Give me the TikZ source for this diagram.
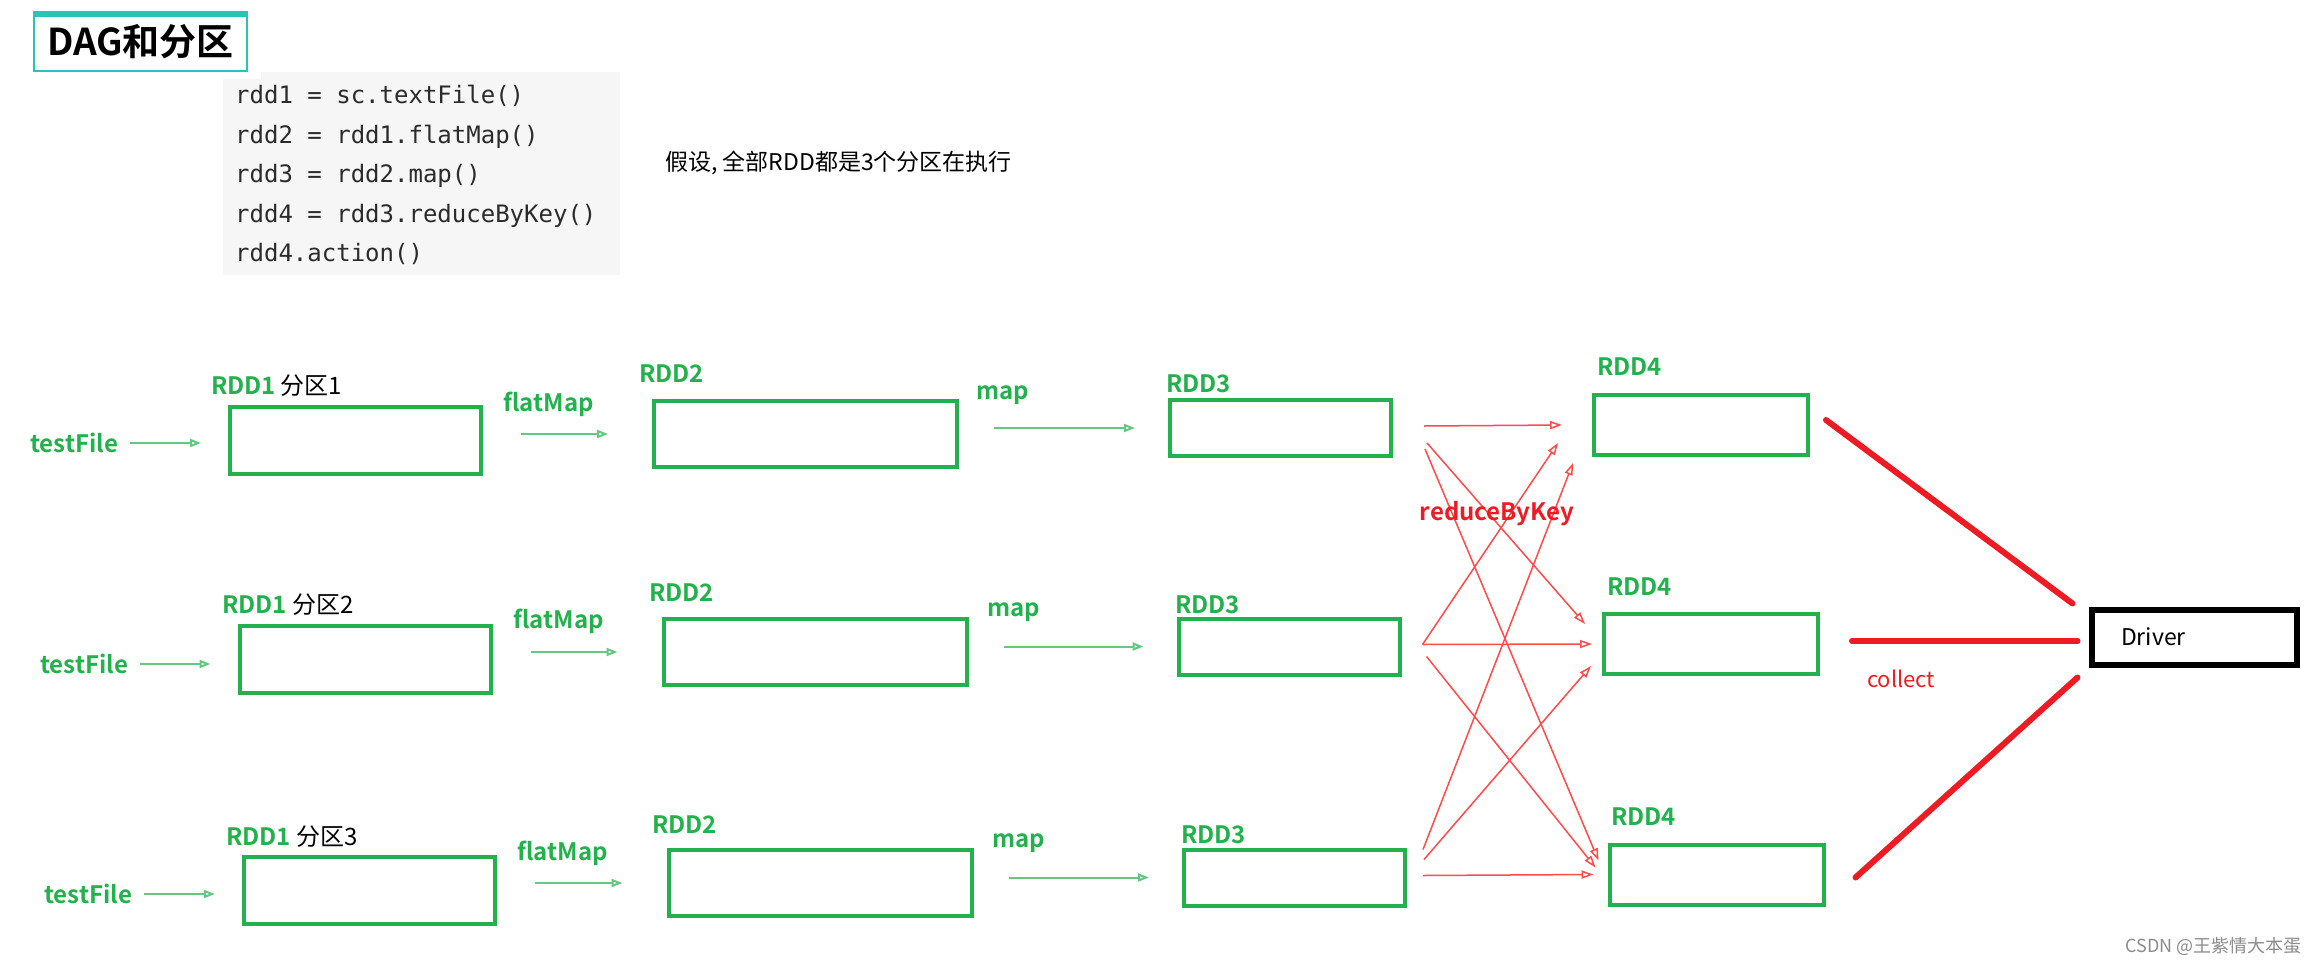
\documentclass[tikz,border=0pt]{standalone}
\usepackage{fontspec}
\setmainfont{Noto Sans CJK SC}[BoldFont={Noto Sans CJK SC Bold}]
\setmonofont{DejaVu Sans Mono}
\usepackage{xcolor}
\usetikzlibrary{arrows.meta, positioning, calc}

\definecolor{rddgreen}{HTML}{22B14C}
\definecolor{rddred}{HTML}{ED1C24}
\definecolor{arrred}{HTML}{FF4B4B}
\definecolor{titleteal}{HTML}{2CC3B5}
\definecolor{codebg}{HTML}{F6F6F6}
\definecolor{codetxt}{HTML}{2B2B2B}

\begin{document}
\begin{tikzpicture}[
  x=1pt, y=-1pt,
  box/.style={rectangle, draw=rddgreen, line width=4pt, inner sep=0pt},
  boxa/.style={box, minimum width=251pt, minimum height=67pt},
  boxb/.style={box, minimum width=303pt, minimum height=66pt},
  boxc/.style={box, minimum width=221pt, minimum height=56pt},
  boxd/.style={box, minimum width=214pt, minimum height=60pt},
  lbl/.style={anchor=west, inner sep=0pt, text=rddgreen,
              font=\fontsize{24}{28}\selectfont\bfseries},
  garr/.style={-{Triangle[open, length=11pt, width=8pt]}, draw=rddgreen!70, line width=2pt},
  tfarr/.style={garr, shorten <=12pt, shorten >=27pt},
  fmarr/.style={garr, shorten <=38pt, shorten >=44pt},
  mparr/.style={garr, shorten <=35pt, shorten >=33pt},
  rarr/.style={-{Triangle[open, length=12pt, width=8pt]}, draw=arrred, line width=1.5pt},
  col/.style={draw=rddred, line width=6pt, line cap=round}
]
\useasboundingbox[fill=white] (0,0) rectangle (2318,966);

% --- title and code ---
\node[draw=titleteal, line width=2pt, minimum width=213pt, minimum height=59pt,
      inner sep=0pt, font=\fontsize{37}{42}\selectfont\bfseries] (title) at (140.5,41.5) {DAG和分区};
\fill[titleteal] (title.north west) rectangle ($(title.north east)+(0,6)$);

\fill[codebg] (261,72) rectangle (620,80);
\node[fill=codebg, anchor=north west, minimum width=397pt, minimum height=196pt,
      inner sep=0pt] (codebg) at (223,79) {};
\node[anchor=west, inner sep=0pt, align=left, text=codetxt,
      font=\ttfamily\fontsize{24}{39.5}\selectfont] (code) at (235,175)
  {rdd1 = sc.textFile()\\rdd2 = rdd1.flatMap()\\rdd3 = rdd2.map()\\rdd4 = rdd3.reduceByKey()\\rdd4.action()};

\node[anchor=west, inner sep=0pt, font=\fontsize{23}{27}\selectfont] (note) at (665,163)
  {假设, 全部RDD都是3个分区在执行};

% --- row 1 ---
\node[boxa] (r11) at (355.5,440.5) {};
\node[boxb] (r21) at (805.5,434) {};
\node[boxc] (r31) at (1280.5,428) {};
\node[boxd] (r41) at (1701,425) {};
\node[lbl] (p11) at (211,386) {RDD1\,\textcolor{black}{\mdseries 分区1}};
\node[lbl] (p21) at (639,374) {RDD2};
\node[lbl] (p31) at (1166,384) {RDD3};
\node[lbl] (p41) at (1597,367) {RDD4};
\node[lbl] (tf1) at (30,443) {testFile};
\node[lbl] (fm1) at (503,404) {flatMap};
\node[lbl] (mp1) at (976,395) {map};
\draw[tfarr] (tf1.east) -- (tf1.east -| r11.west);
\draw[fmarr] (r11.east |- r21.west) -- (r21.west);
\draw[mparr] (r21.east |- r31.west) -- (r31.west);

% --- row 2 ---
\node[boxa] (r12) at (365,659.5) {};
\node[boxb] (r22) at (815,652) {};
\node[boxc] (r32) at (1289,646.5) {};
\node[boxd] (r42) at (1711,644) {};
\node[lbl] (p12) at (222,605) {RDD1 \textcolor{black}{\mdseries 分区2}};
\node[lbl] (p22) at (649,593) {RDD2};
\node[lbl] (p32) at (1175,605) {RDD3};
\node[lbl] (p42) at (1607,587) {RDD4};
\node[lbl] (tf2) at (40,664) {testFile};
\node[lbl] (fm2) at (513,621) {flatMap};
\node[lbl] (mp2) at (987,612) {map};
\draw[tfarr] (tf2.east) -- (tf2.east -| r12.west);
\draw[fmarr] (r12.east |- r22.west) -- (r22.west);
\draw[mparr] (r22.east |- r32.west) -- (r32.west);

% --- row 3 ---
\node[boxa] (r13) at (369.5,890.5) {};
\node[boxb] (r23) at (820,883) {};
\node[boxc] (r33) at (1294.5,877.5) {};
\node[boxd] (r43) at (1716.5,874.5) {};
\node[lbl] (p13) at (226,837) {RDD1 \textcolor{black}{\mdseries 分区3}};
\node[lbl] (p23) at (652,825) {RDD2};
\node[lbl] (p33) at (1181,835) {RDD3};
\node[lbl] (p43) at (1611,817) {RDD4};
\node[lbl] (tf3) at (44,894) {testFile};
\node[lbl] (fm3) at (517,853) {flatMap};
\node[lbl] (mp3) at (992,843) {map};
\draw[tfarr] (tf3.east) -- (tf3.east -| r13.west);
\draw[fmarr] (r13.east |- r23.west) -- (r23.west);
\draw[mparr] (r23.east |- r33.west) -- (r33.west);

% --- reduceByKey shuffle ---
\draw[rarr] ($(r31.east)+(31,-2)$) -- ($(r41.west)+(-30,0)$);
\draw[rarr] ($(r31.east)+(34,15)$) -- ($(r42.west)+(-17,-20)$);
\draw[rarr] ($(r31.east)+(32,21)$) -- ($(r43.west)+(-9,-14)$);
\draw[rarr] ($(r32.east)+(21,-2)$) -- ($(r41.west)+(-34,18)$);
\draw[rarr] ($(r32.east)+(21,-2)$) -- ($(r42.west)+(-10,0)$);
\draw[rarr] ($(r32.east)+(25,10)$) -- ($(r43.west)+(-12,-7)$);
\draw[rarr] ($(r33.east)+(16,-28)$) -- ($(r41.west)+(-19,38)$);
\draw[rarr] ($(r33.east)+(17,-18)$) -- ($(r42.west)+(-11,22)$);
\draw[rarr] ($(r33.east)+(16,-2)$) -- ($(r43.west)+(-14,0)$);
\node[inner sep=0pt, text=rddred, font=\fontsize{24}{28}\selectfont\bfseries] (rbk) at (1497,514) {reduceByKey};

% --- collect to driver ---
\node[draw=black, line width=6pt, minimum width=205pt, minimum height=55pt, inner sep=0pt,
      text width=146pt, align=left, font=\fontsize{23}{27}\selectfont] (drv) at (2194,637) {Driver};
\draw[col] ($(r41.east)+(16,-5)$) -- ($(drv.north west)+(-16,-3)$);
\draw[col] ($(r42.east)+(32,-3)$) -- ($(drv.west)+(-11,4)$);
\draw[col] ($(r43.east)+(30,3)$) -- ($(drv.south west)+(-11,10)$);
\node[anchor=west, inner sep=0pt, text=rddred, font=\fontsize{22}{26}\selectfont] (clt) at (1867,679) {collect};

\node[anchor=east, inner sep=0pt, text=black!45, font=\fontsize{18}{20}\selectfont] (wm) at (2302,946)
  {CSDN @王紫情大本蛋};

\end{tikzpicture}
\end{document}
